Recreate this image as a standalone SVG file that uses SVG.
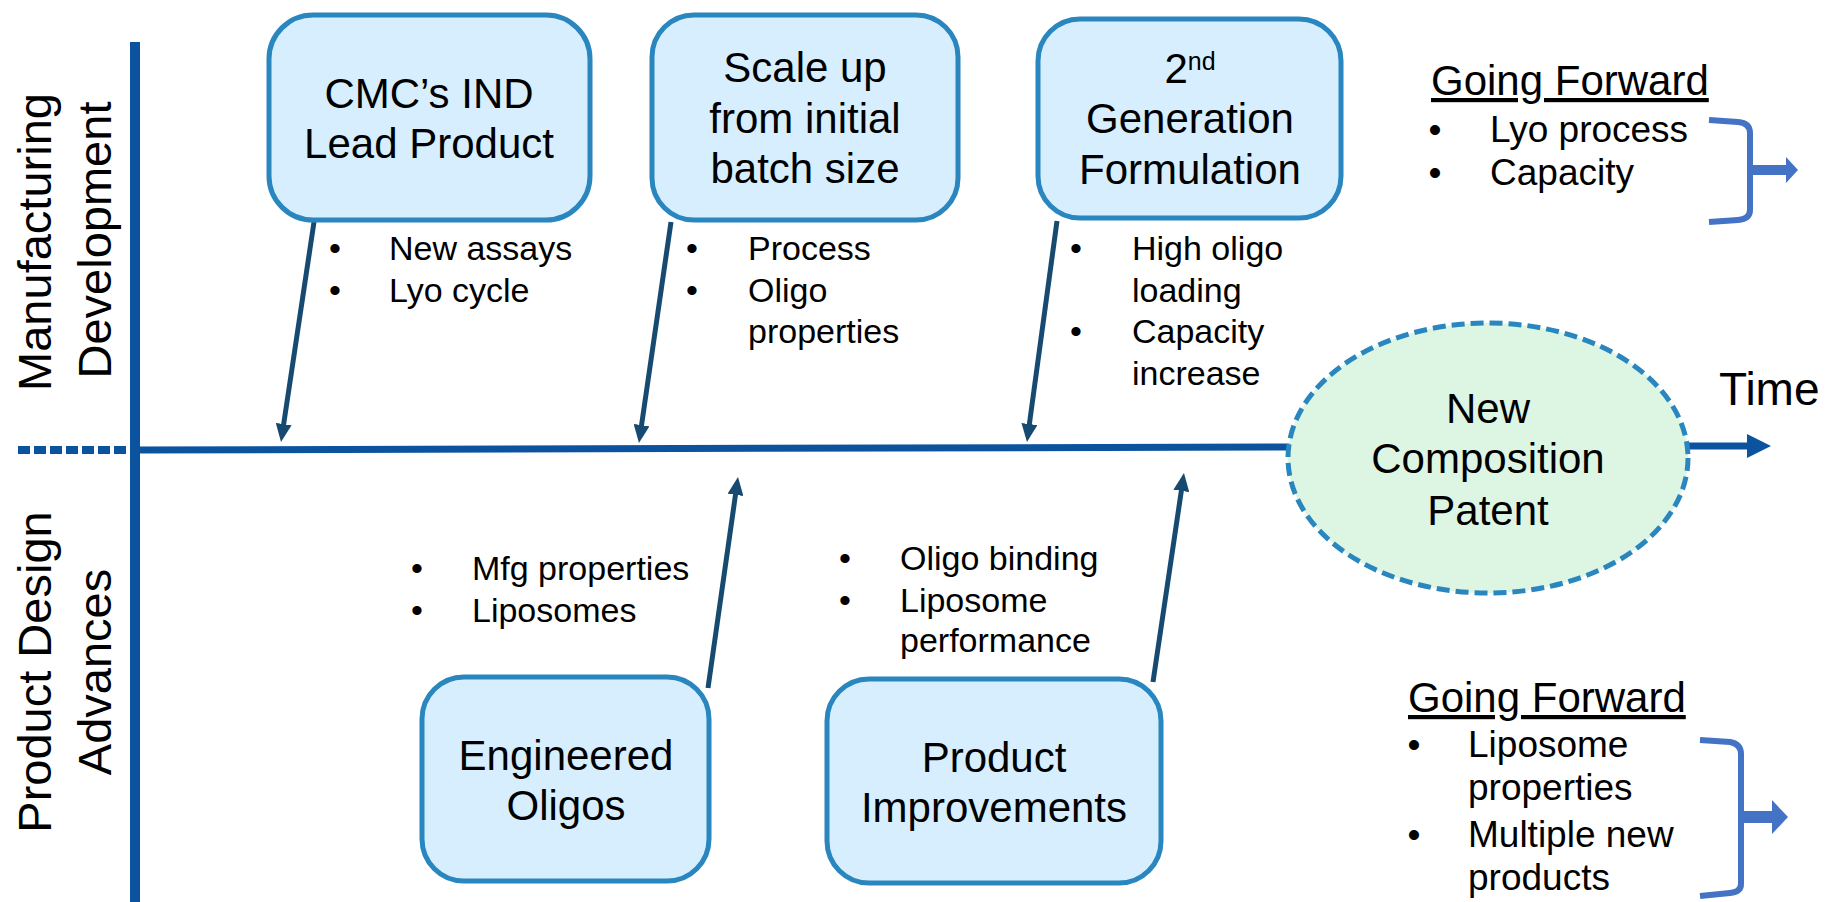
<svg xmlns="http://www.w3.org/2000/svg" width="1827" height="902" viewBox="0 0 1827 902">
<defs>
<style>
text{font-family:"Liberation Sans",Arial,sans-serif;fill:#000}
.box{fill:#D6EEFD;stroke:#2A86BE;stroke-width:5}
.bt{font-size:42px;text-anchor:middle}
.bl{font-size:34px}
.bd{font-size:34px;text-anchor:middle}
.gf{font-size:42px;text-decoration:underline}
.gb{font-size:37px}
.gd{font-size:37px;text-anchor:middle}
.side{font-size:47px;text-anchor:middle}
.conn{stroke:#174A70;stroke-width:5;fill:none}
.axis{stroke:#0B539F;fill:none}
.brk{stroke:#4472C4;stroke-width:6;fill:none}
</style>
<marker id="ah" viewBox="0 0 18 16" markerWidth="18" markerHeight="16" refX="8" refY="8" orient="auto" markerUnits="userSpaceOnUse">
<path d="M0,0 L18,8 L0,16 z" fill="#174A70"/>
</marker>
</defs>
<rect width="1827" height="902" fill="#fff"/>

<g id="axes">
<line class="axis" x1="135" y1="42" x2="135" y2="902" stroke-width="10"/>
<line class="axis" x1="18" y1="450" x2="126" y2="450" stroke-width="8" stroke-dasharray="12 4"/>
<line class="axis" x1="135" y1="450" x2="1292" y2="447" stroke-width="7"/>
<line class="axis" x1="1686" y1="446" x2="1750" y2="446" stroke-width="7"/>
<polygon points="1747,434 1771,446 1747,458" fill="#0B539F"/>
<text x="1719" y="405" font-size="46">Time</text>
</g>

<g id="side-labels">
<text class="side" transform="translate(51,242) rotate(-90)">Manufacturing</text>
<text class="side" transform="translate(111,240) rotate(-90)">Development</text>
<text class="side" transform="translate(51,672) rotate(-90)">Product Design</text>
<text class="side" transform="translate(111,672) rotate(-90)">Advances</text>
</g>

<g id="connectors">
<line class="conn" x1="314" y1="222" x2="282.5" y2="432" marker-end="url(#ah)"/>
<line class="conn" x1="671" y1="222" x2="640.4" y2="433" marker-end="url(#ah)"/>
<line class="conn" x1="1057" y1="221" x2="1028.3" y2="432" marker-end="url(#ah)"/>
<line class="conn" x1="708" y1="688" x2="736.6" y2="487" marker-end="url(#ah)"/>
<line class="conn" x1="1153" y1="682" x2="1182.5" y2="483" marker-end="url(#ah)"/>
</g>

<g id="node-cmc">
<rect class="box" x="269" y="15" width="321" height="205" rx="44"/>
<text class="bt" x="429" y="108">CMC’s IND</text>
<text class="bt" x="429" y="158">Lead Product</text>
</g>
<g id="notes-cmc">
<text class="bd" x="335" y="260">•</text><text class="bl" x="389" y="260">New assays</text>
<text class="bd" x="335" y="302">•</text><text class="bl" x="389" y="302">Lyo cycle</text>
</g>

<g id="node-scale">
<rect class="box" x="652" y="15" width="306" height="205" rx="42"/>
<text class="bt" x="805" y="82">Scale up</text>
<text class="bt" x="805" y="133">from initial</text>
<text class="bt" x="805" y="183">batch size</text>
</g>
<g id="notes-scale">
<text class="bd" x="692" y="260">•</text><text class="bl" x="748" y="260">Process</text>
<text class="bd" x="692" y="302">•</text><text class="bl" x="748" y="302">Oligo</text>
<text class="bl" x="748" y="343">properties</text>
</g>

<g id="node-2nd">
<rect class="box" x="1038" y="19" width="303" height="199" rx="42"/>
<text class="bt" x="1190" y="83">2<tspan font-size="25px" dy="-13">nd</tspan></text>
<text class="bt" x="1190" y="133">Generation</text>
<text class="bt" x="1190" y="184">Formulation</text>
</g>
<g id="notes-2nd">
<text class="bd" x="1076" y="260">•</text><text class="bl" x="1132" y="260">High oligo</text>
<text class="bl" x="1132" y="302">loading</text>
<text class="bd" x="1076" y="343">•</text><text class="bl" x="1132" y="343">Capacity</text>
<text class="bl" x="1132" y="385">increase</text>
</g>

<g id="node-eng">
<rect class="box" x="422" y="677" width="287" height="204" rx="42"/>
<text class="bt" x="566" y="770">Engineered</text>
<text class="bt" x="566" y="820">Oligos</text>
</g>
<g id="notes-eng">
<text class="bd" x="417" y="580">•</text><text class="bl" x="472" y="580">Mfg properties</text>
<text class="bd" x="417" y="622">•</text><text class="bl" x="472" y="622">Liposomes</text>
</g>

<g id="node-improve">
<rect class="box" x="827" y="679" width="334" height="204" rx="42"/>
<text class="bt" x="994" y="772">Product</text>
<text class="bt" x="994" y="822">Improvements</text>
</g>
<g id="notes-improve">
<text class="bd" x="845" y="570">•</text><text class="bl" x="900" y="570">Oligo binding</text>
<text class="bd" x="845" y="612">•</text><text class="bl" x="900" y="612">Liposome</text>
<text class="bl" x="900" y="652">performance</text>
</g>

<g id="node-patent">
<ellipse cx="1488" cy="458" rx="200" ry="135" fill="#DDF5E3" stroke="#2A86BE" stroke-width="5" stroke-dasharray="13 6"/>
<text class="bt" x="1488" y="423">New</text>
<text class="bt" x="1488" y="473">Composition</text>
<text class="bt" x="1488" y="525">Patent</text>
</g>

<g id="forward-top">
<text class="gf" x="1431" y="95">Going Forward</text>
<text class="gd" x="1435" y="142">•</text><text class="gb" x="1490" y="142">Lyo process</text>
<text class="gd" x="1435" y="185">•</text><text class="gb" x="1490" y="185">Capacity</text>
<path class="brk" d="M1709,120 L1738,122 Q1750,123 1750,133 L1750,210 Q1750,219 1738,220 L1709,222"/>
<polygon points="1750,165 1786,165 1786,157 1798,170 1786,183 1786,175 1750,175" fill="#4472C4"/>
</g>

<g id="forward-bottom">
<text class="gf" x="1408" y="712">Going Forward</text>
<text class="gd" x="1414" y="757">•</text><text class="gb" x="1468" y="757">Liposome</text>
<text class="gb" x="1468" y="800">properties</text>
<text class="gd" x="1414" y="847">•</text><text class="gb" x="1468" y="847">Multiple new</text>
<text class="gb" x="1468" y="890">products</text>
<path class="brk" d="M1700,740 L1730,742 Q1741,744 1741,754 L1741,884 Q1741,892 1730,893 L1700,896"/>
<polygon points="1741,811 1772,811 1772,800 1788,817 1772,834 1772,823 1741,823" fill="#4472C4"/>
</g>
</svg>
